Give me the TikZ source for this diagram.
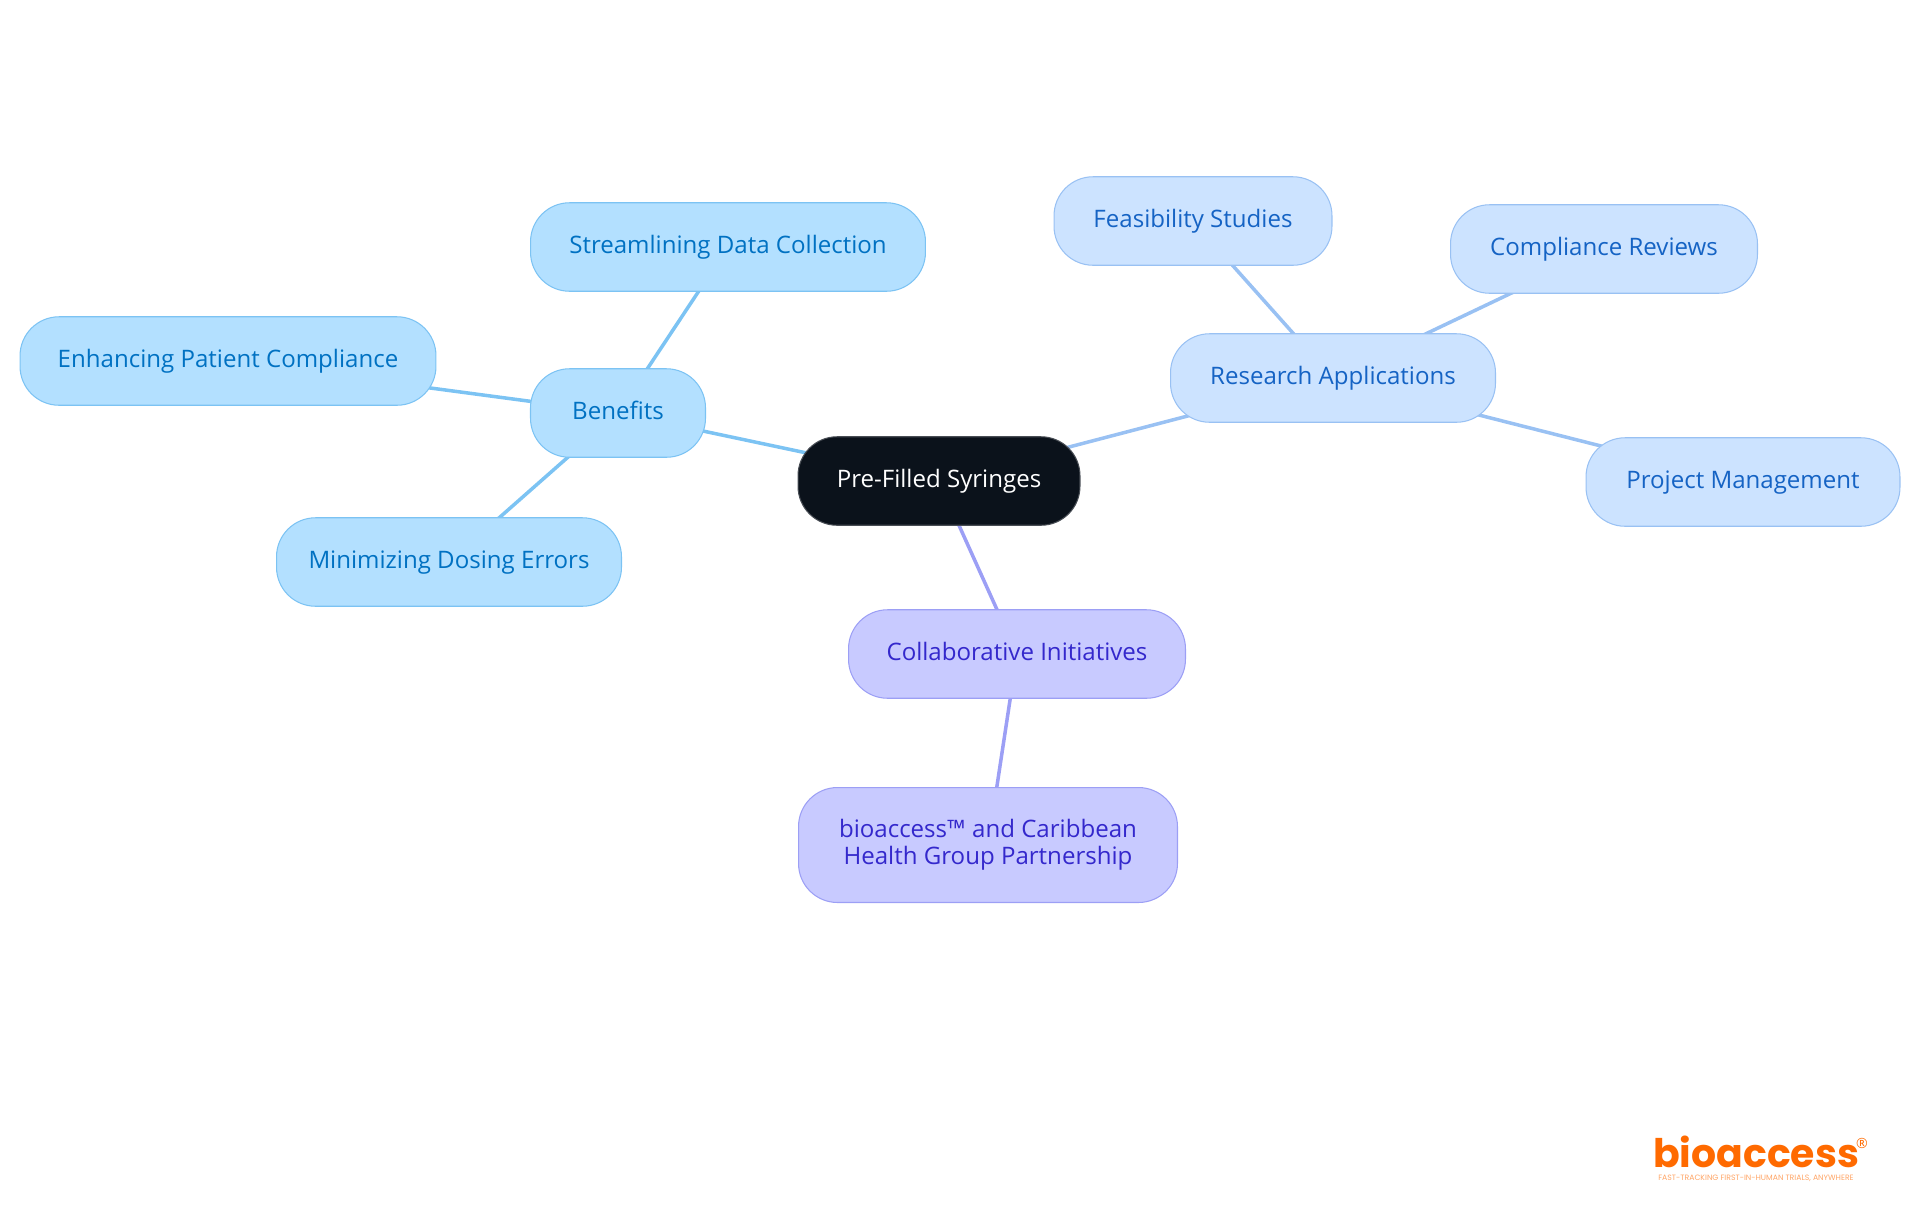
\documentclass[tikz,border=0pt]{standalone}
\usepackage{fontspec}
\setmainfont{Open Sans}
\newfontfamily\logofont{Poppins}
\usepackage{tikz}
\usetikzlibrary{backgrounds}
\definecolor{rootfill}{HTML}{0B121B}
\definecolor{skyfill}{HTML}{B3E0FF}
\definecolor{skyline}{HTML}{7CC3F3}
\definecolor{skytext}{HTML}{0071C2}
\definecolor{bluefill}{HTML}{CCE3FF}
\definecolor{blueline}{HTML}{99C1F3}
\definecolor{bluetext}{HTML}{1563C4}
\definecolor{violetfill}{HTML}{C8CAFF}
\definecolor{violetline}{HTML}{9C9FF5}
\definecolor{violettext}{HTML}{3428CC}
\definecolor{logoorange}{HTML}{FF6A00}
\tikzset{
	pill/.style={draw, rounded corners=0.78cm, line width=0.6pt, align=center, inner sep=0pt, minimum height=1.77cm, font=\fontsize{13.7}{15.4}\selectfont},
	oneline/.style={text height=0.86em, text depth=0.16em},
	rootpill/.style={pill, oneline, fill=rootfill, draw=rootfill!75!white, text=white},
	skypill/.style={pill, oneline, fill=skyfill, draw=skyline, text=skytext},
	bluepill/.style={pill, oneline, fill=bluefill, draw=blueline, text=bluetext},
	violetpill/.style={pill, fill=violetfill, draw=violetline, text=violettext},
	link/.style={line width=2pt}
}
\begin{document}
\begin{tikzpicture}[x=0.02cm, y=-0.02cm]
	\useasboundingbox (0,0) rectangle (1920,1215);
	% root
	\node[rootpill, minimum width=5.64cm] (syringes) at (939,481) {Pre-Filled Syringes};
	% benefits branch
	\node[skypill, minimum width=3.5cm] (benefits) at (618,413) {Benefits};
	\node[skypill, minimum width=7.9cm] (streamlining) at (728,247) {Streamlining Data Collection};
	\node[skypill, minimum width=8.32cm] (enhancing) at (228,361) {Enhancing Patient Compliance};
	\node[skypill, minimum width=6.9cm] (minimizing) at (449,562) {Minimizing Dosing Errors};
	% research branch
	\node[bluepill, minimum width=6.5cm] (research) at (1333,378) {Research Applications};
	\node[bluepill, minimum width=5.56cm] (feasibility) at (1193,221) {Feasibility Studies};
	\node[bluepill, minimum width=6.14cm] (compliance) at (1604,249) {Compliance Reviews};
	\node[bluepill, minimum width=6.28cm] (project) at (1743,482) {Project Management};
	% collaborative branch
	\node[violetpill, oneline, minimum width=6.74cm] (collab) at (1017,654) {Collaborative Initiatives};
	\node[violetpill, minimum width=7.58cm, minimum height=2.3cm] (partnership) at (988,845) {bioaccess™ and Caribbean\\Health Group Partnership};
	% links sit behind the pills
	\begin{scope}[on background layer]
		\draw[link, skyline] (syringes.center) -- (benefits.center);
		\draw[link, skyline] (benefits.center) -- (streamlining.center);
		\draw[link, skyline] (benefits.center) -- (enhancing.center);
		\draw[link, skyline] (benefits.center) -- (minimizing.center);
		\draw[link, blueline] (syringes.center) -- (research.center);
		\draw[link, blueline] (research.center) -- (feasibility.center);
		\draw[link, blueline] (research.center) -- (compliance.center);
		\draw[link, blueline] (research.center) -- (project.center);
		\draw[link, violetline] (syringes.center) -- (collab.center);
		\draw[link, violetline] (collab.center) -- (partnership.center);
	\end{scope}
	% logo
	\node[inner sep=0pt, text=logoorange, text depth=0pt, font=\logofont\bfseries\fontsize{22.4}{23}\selectfont] (logo) at (1756,1152) {bioaccess};
	\node[inner sep=0pt, text=logoorange, font=\fontsize{8}{8}\selectfont] (logomark) at (1862,1143) {®};
	\node[inner sep=0pt, text=logoorange!60!white, font=\logofont\fontsize{4.4}{4.4}\selectfont] (logotag) at (1756,1178) {FAST-TRACKING FIRST-IN-HUMAN TRIALS, ANYWHERE};
\end{tikzpicture}
\end{document}
